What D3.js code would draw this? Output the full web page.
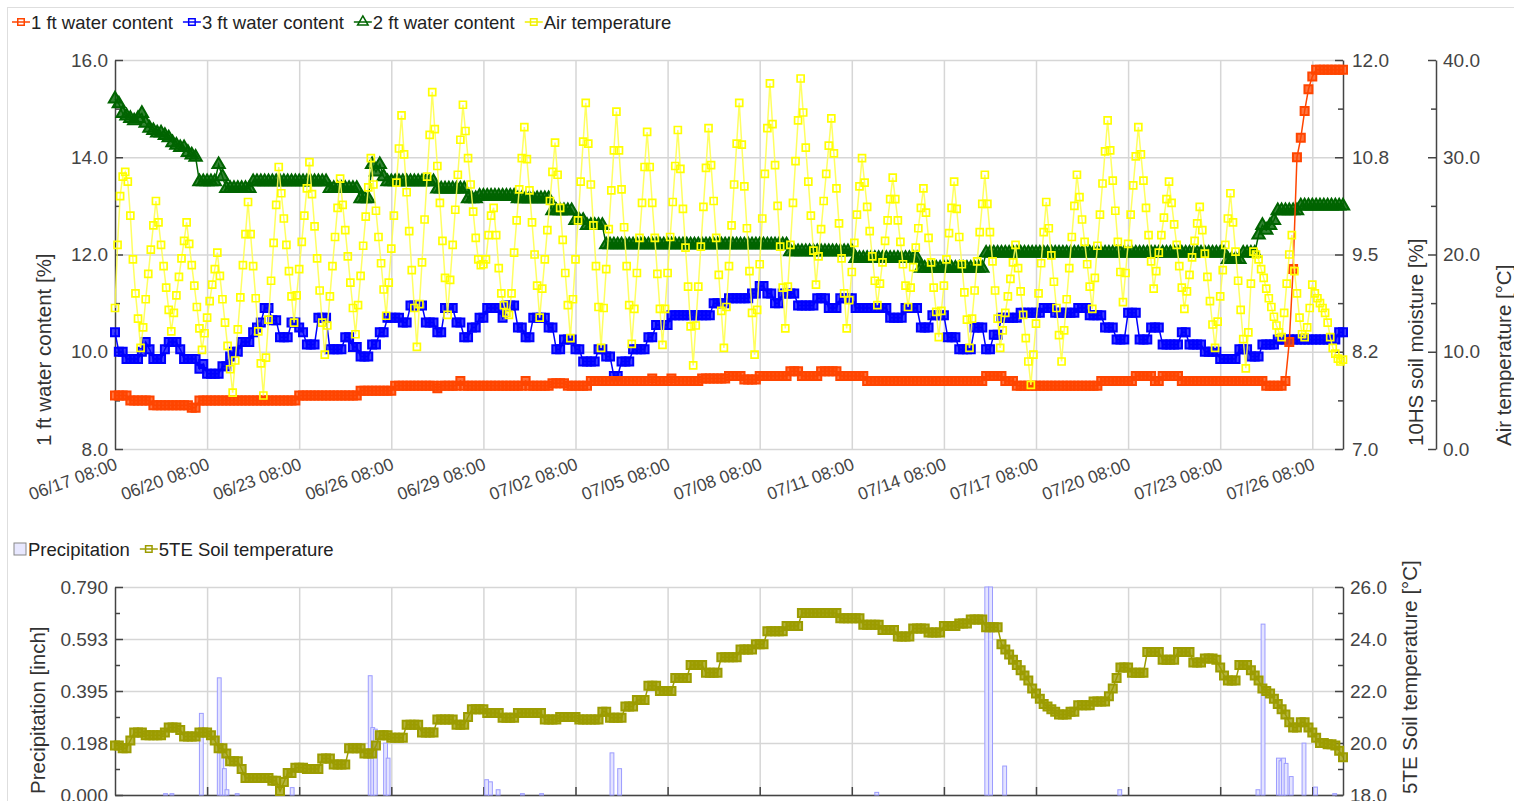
<!DOCTYPE html>
<html><head><meta charset="utf-8">
<script src="https://cdn.jsdelivr.net/npm/d3@7"></script>
<style>
body{margin:0;background:#fff}
svg{display:block}
text{font-family:"Liberation Sans",Arial,Helvetica,sans-serif}
</style>
</head><body>
<script>
// ---------------- DATA ----------------
const startTime = "2020-06-17T08:00";
const endTime   = "2020-07-27T08:00";
const xTickLabels = ["06/17 08:00","06/20 08:00","06/23 08:00","06/26 08:00","06/29 08:00","07/02 08:00","07/05 08:00","07/08 08:00","07/11 08:00","07/14 08:00","07/17 08:00","07/20 08:00","07/23 08:00","07/26 08:00"];
const xTickTimes  = ["2020-06-17T08:00","2020-06-20T08:00","2020-06-23T08:00","2020-06-26T08:00","2020-06-29T08:00","2020-07-02T08:00","2020-07-05T08:00","2020-07-08T08:00","2020-07-11T08:00","2020-07-14T08:00","2020-07-17T08:00","2020-07-20T08:00","2020-07-23T08:00","2020-07-26T08:00"];

const waterTicks = [8,10,12,14,16];           const waterTickLabels = ["8.0","10.0","12.0","14.0","16.0"];
const moistTicks = [7,8.25,9.5,10.75,12];      const moistTickLabels = ["7.0","8.2","9.5","10.8","12.0"];
const airTicks   = [0,10,20,30,40];            const airTickLabels   = ["0.0","10.0","20.0","30.0","40.0"];
const precipTicks = [0,0.1975,0.395,0.5925,0.79]; const precipTickLabels = ["0.000","0.198","0.395","0.593","0.790"];
const soilTicks  = [18,20,22,24,26];           const soilTickLabels  = ["18.0","20.0","22.0","24.0","26.0"];

// step of the series (hours)
const stepHoursWater = 3;
const stepHoursAir = 2;

// 1 ft water content [%] (every 3 h, one row per day)
const water1ft = [
9.1,9.1,9.1,9.1,9.0,9.0,9.0,9.0,
9.0,9.0,8.9,8.9,8.9,8.9,8.9,8.9,
8.9,8.9,8.9,8.9,8.85,8.85,9.0,9.0,
9.0,9.0,9.0,9.0,9.0,9.0,9.0,9.0,
9.0,9.0,9.0,9.0,9.0,9.0,9.0,9.0,
9.0,9.0,9.0,9.0,9.0,9.0,9.0,9.0,
9.1,9.1,9.1,9.1,9.1,9.1,9.1,9.1,
9.1,9.1,9.1,9.1,9.1,9.1,9.1,9.1,
9.2,9.2,9.2,9.2,9.2,9.2,9.2,9.2,
9.2,9.3,9.3,9.3,9.3,9.3,9.3,9.3,
9.3,9.3,9.3,9.3,9.25,9.3,9.3,9.3,
9.3,9.3,9.4,9.3,9.3,9.3,9.3,9.3,
9.3,9.3,9.3,9.3,9.3,9.3,9.3,9.3,
9.3,9.3,9.3,9.4,9.3,9.3,9.3,9.3,
9.3,9.3,9.35,9.35,9.35,9.35,9.3,9.3,
9.3,9.3,9.3,9.3,9.4,9.4,9.4,9.4,
9.4,9.4,9.4,9.4,9.4,9.4,9.4,9.4,
9.4,9.4,9.4,9.4,9.45,9.4,9.4,9.4,
9.4,9.45,9.4,9.4,9.4,9.4,9.4,9.4,
9.4,9.45,9.45,9.45,9.45,9.45,9.45,9.45,
9.5,9.5,9.5,9.5,9.43,9.43,9.43,9.43,
9.5,9.5,9.5,9.5,9.5,9.5,9.5,9.5,
9.6,9.6,9.6,9.5,9.5,9.5,9.5,9.5,
9.6,9.6,9.6,9.6,9.6,9.5,9.5,9.5,
9.5,9.5,9.5,9.5,9.4,9.4,9.4,9.4,
9.4,9.4,9.4,9.4,9.4,9.4,9.4,9.4,
9.4,9.4,9.4,9.4,9.4,9.4,9.4,9.4,
9.4,9.4,9.4,9.4,9.4,9.4,9.4,9.4,
9.4,9.4,9.4,9.5,9.5,9.5,9.5,9.5,
9.4,9.4,9.4,9.3,9.3,9.3,9.3,9.3,
9.3,9.3,9.3,9.3,9.3,9.3,9.3,9.3,
9.3,9.3,9.3,9.3,9.3,9.3,9.3,9.3,
9.3,9.4,9.4,9.4,9.4,9.4,9.4,9.4,
9.4,9.4,9.5,9.5,9.5,9.5,9.5,9.4,
9.4,9.5,9.5,9.5,9.5,9.5,9.4,9.4,
9.4,9.4,9.4,9.4,9.4,9.4,9.4,9.4,
9.4,9.4,9.4,9.4,9.4,9.4,9.4,9.4,
9.4,9.4,9.4,9.4,9.3,9.3,9.3,9.3,
9.3,9.4,10.2,11.7,14.0,14.4,14.95,15.4,
15.66,15.8,15.8,15.8,15.8,15.8,15.8,15.8,
15.8];

// 3 ft water content [%]
const water3ft = [
10.4,10.0,10.0,9.85,9.85,9.85,9.85,10.0,
10.2,10.05,9.85,9.85,9.85,10.05,10.2,10.2,
10.2,10.05,9.85,9.85,9.85,9.85,9.65,9.75,
9.55,9.55,9.55,9.55,9.7,9.7,9.9,10.0,
10.0,10.2,10.2,10.2,10.4,10.5,10.6,10.9,
10.9,10.65,10.65,10.3,10.3,10.3,10.6,10.6,
10.5,10.4,10.15,10.15,10.15,10.7,10.7,10.7,
10.05,10.05,10.05,10.05,10.3,10.3,10.1,10.1,
9.9,9.9,9.9,10.15,10.15,10.4,10.4,10.7,
10.7,10.7,10.7,10.6,10.6,10.95,10.95,10.95,
10.95,10.6,10.6,10.6,10.4,10.4,10.9,10.9,
10.9,10.6,10.6,10.3,10.3,10.5,10.5,10.7,
10.7,10.9,10.9,10.9,10.9,10.7,10.95,10.95,
10.95,10.5,10.5,10.3,10.3,10.7,10.7,10.7,
10.7,10.5,10.5,10.05,10.05,10.25,10.25,10.25,
10.05,10.05,9.8,9.8,9.8,9.8,10.05,10.05,
9.9,9.9,9.5,9.5,9.8,9.8,9.8,10.05,
10.05,10.05,10.05,10.3,10.3,10.55,10.55,10.55,
10.55,10.75,10.75,10.75,10.75,10.75,10.75,10.75,
10.75,10.75,10.75,10.75,11.0,11.0,11.0,11.0,
11.1,11.1,11.1,11.1,11.1,11.1,11.2,11.2,
11.35,11.35,11.2,11.2,11.0,11.0,11.2,11.2,
11.2,11.2,10.95,10.95,10.95,10.95,10.95,11.1,
11.1,11.1,10.9,10.9,10.9,11.1,11.1,11.1,
11.1,10.9,10.9,10.9,10.9,10.9,10.9,10.9,
10.9,10.9,10.7,10.7,10.7,10.7,10.9,10.9,
10.9,10.9,10.5,10.5,10.5,10.75,10.75,10.75,
10.75,10.3,10.3,10.3,10.05,10.05,10.05,10.05,
10.5,10.5,10.5,10.05,10.05,10.35,10.35,10.7,
10.7,10.7,10.7,10.7,10.8,10.8,10.8,10.8,
10.8,10.8,10.9,10.9,10.9,10.8,10.8,10.8,
10.8,10.8,10.8,10.9,10.9,10.9,10.75,10.75,
10.75,10.75,10.5,10.5,10.5,10.25,10.25,10.25,
10.8,10.8,10.8,10.25,10.25,10.25,10.5,10.5,
10.5,10.15,10.15,10.15,10.15,10.15,10.4,10.4,
10.15,10.15,10.15,10.15,10.0,10.0,10.0,10.0,
9.85,9.85,9.85,9.85,9.85,10.05,10.05,10.05,
9.9,9.9,9.9,10.15,10.15,10.15,10.15,10.25,
10.25,10.25,10.25,10.25,10.25,10.25,10.25,10.25,
10.25,10.25,10.25,10.25,10.25,10.25,10.25,10.4,
10.4];

// 2 ft water content [%]
const water2ft = [
15.2,15.1,14.9,14.85,14.8,14.75,14.8,14.9,
14.7,14.6,14.55,14.5,14.5,14.45,14.4,14.3,
14.25,14.2,14.2,14.1,14.05,14.0,13.5,13.5,
13.5,13.5,13.5,13.85,13.6,13.36,13.36,13.36,
13.36,13.36,13.36,13.36,13.5,13.5,13.5,13.5,
13.5,13.5,13.5,13.5,13.5,13.5,13.5,13.5,
13.5,13.5,13.5,13.5,13.5,13.5,13.5,13.5,
13.36,13.36,13.36,13.36,13.36,13.36,13.36,13.36,
13.15,13.15,13.15,13.85,13.7,13.85,13.6,13.5,
13.5,13.5,13.5,13.5,13.5,13.5,13.5,13.5,
13.5,13.5,13.5,13.5,13.35,13.35,13.35,13.35,
13.35,13.35,13.35,13.35,13.15,13.15,13.15,13.2,
13.2,13.2,13.2,13.2,13.2,13.2,13.2,13.2,
13.2,13.15,13.15,13.15,13.15,13.15,13.15,13.15,
13.15,13.15,12.9,12.9,12.9,12.9,12.9,12.9,
12.7,12.7,12.7,12.6,12.6,12.6,12.6,12.6,
12.2,12.2,12.2,12.2,12.2,12.2,12.2,12.2,
12.2,12.2,12.2,12.2,12.2,12.2,12.2,12.2,
12.2,12.2,12.2,12.2,12.2,12.2,12.2,12.2,
12.2,12.2,12.2,12.2,12.2,12.2,12.2,12.2,
12.2,12.2,12.2,12.2,12.2,12.2,12.2,12.2,
12.2,12.2,12.2,12.2,12.2,12.2,12.2,12.2,
12.06,12.06,12.06,12.06,12.06,12.06,12.06,12.06,
12.06,12.06,12.06,12.06,12.06,12.06,12.06,12.06,
12.06,11.92,11.92,11.92,11.92,11.92,11.92,11.92,
11.92,11.92,11.92,11.92,11.92,11.92,11.92,11.92,
11.92,11.92,11.72,11.72,11.72,11.72,11.72,11.72,
11.72,11.72,11.72,11.72,11.72,11.72,11.72,11.72,
11.72,11.72,11.72,12.03,12.03,12.03,12.03,12.03,
12.03,12.03,12.03,12.03,12.03,12.03,12.03,12.03,
12.03,12.03,12.03,12.03,12.03,12.03,12.03,12.03,
12.03,12.03,12.03,12.03,12.03,12.03,12.03,12.03,
12.03,12.03,12.03,12.03,12.03,12.03,12.03,12.03,
12.03,12.03,12.03,12.03,12.03,12.03,12.03,12.03,
12.03,12.03,12.03,12.03,12.03,12.03,12.03,12.03,
12.03,12.03,12.03,12.03,12.03,12.03,12.03,12.03,
12.03,12.03,11.9,11.9,11.9,11.9,12.03,12.03,
12.03,12.03,12.4,12.6,12.5,12.6,12.7,12.9,
12.9,12.9,12.9,12.9,12.9,13.0,13.0,13.0,
13.0,13.0,13.0,13.0,13.0,13.0,13.0,13.0,
13.0];

// Air temperature [°C] (every 2 h, one row per day: 08..06)
const airTemp = [
14.5,21.0,26.0,28.0,28.5,27.5,24.0,19.5,16.0,13.4,10.4,12.5,
15.4,18.0,20.5,23.0,25.5,23.3,21.0,18.8,16.6,14.3,12.1,14.0,
15.8,17.7,19.6,21.4,23.3,21.1,18.9,16.8,14.6,12.4,10.2,11.9,
13.5,15.2,16.9,18.5,20.2,17.8,15.4,13.0,10.6,8.2,5.8,9.1,
12.3,15.6,18.9,22.1,25.4,22.1,18.8,15.5,12.1,8.8,5.5,9.4,
13.3,17.3,21.2,25.1,29.0,26.3,23.7,21.0,18.3,15.7,13.0,15.8,
18.5,21.3,24.0,26.8,29.5,26.2,22.9,19.6,16.3,13.0,9.7,12.7,
15.7,18.8,21.8,24.8,27.8,25.1,22.5,19.8,17.1,14.5,11.8,14.8,
17.8,20.9,23.9,26.9,29.9,27.2,24.5,21.8,19.1,16.4,13.7,17.1,
20.6,24.0,27.4,30.9,34.3,30.3,26.4,22.4,18.4,14.5,10.5,14.9,
19.2,23.6,28.0,32.3,36.7,32.9,29.1,25.3,21.4,17.6,13.8,17.4,
21.0,24.6,28.2,31.8,35.4,32.7,29.9,27.2,24.4,21.7,19.5,18.9,
19.0,19.5,22.0,24.0,24.8,22.0,18.6,16.0,14.8,14.0,13.8,16.0,
20.2,23.5,26.7,29.9,33.1,29.8,26.6,23.3,20.0,16.8,13.5,16.5,
19.5,22.5,25.5,28.5,31.5,28.2,24.8,21.5,18.1,14.8,11.4,15.4,
19.5,23.5,27.5,31.6,35.6,31.4,27.2,23.0,18.8,14.6,10.4,14.5,
18.5,22.6,26.6,30.7,34.7,30.7,26.7,22.8,18.8,14.8,10.8,14.4,
18.1,21.7,25.3,29.0,32.6,29.0,25.3,21.7,18.0,14.4,10.7,14.4,
18.1,21.8,25.4,29.1,32.8,28.8,24.7,20.7,16.7,12.6,8.6,12.7,
16.7,20.8,24.9,28.9,33.0,29.2,25.5,21.7,17.9,14.2,10.4,14.6,
18.8,23.0,27.2,31.4,35.6,31.3,27.0,22.7,18.3,14.0,9.7,14.3,
19.0,23.7,28.3,33.0,37.6,33.4,29.2,25.0,20.8,16.6,12.4,16.7,
21.0,25.3,29.6,33.8,38.1,34.6,31.0,27.5,24.0,20.4,16.9,19.8,
22.6,25.5,28.3,31.2,34.0,30.4,26.8,23.2,19.6,16.0,12.4,15.3,
18.2,21.2,24.1,27.0,29.9,27.4,24.9,22.4,19.8,17.3,14.8,17.0,
19.2,21.4,23.5,25.7,27.9,25.7,23.5,21.3,19.0,16.8,14.6,16.6,
18.7,20.7,22.7,24.8,26.8,24.3,21.7,19.2,16.6,14.1,11.5,14.2,
16.8,19.5,22.2,24.8,27.5,24.7,21.8,19.0,16.1,13.3,10.4,13.4,
16.3,19.3,22.3,25.2,28.2,25.2,22.3,19.3,16.3,13.4,10.4,12.2,
14.0,15.7,17.5,19.2,21.0,18.6,16.2,13.8,11.4,9.0,6.6,9.7,
12.9,16.0,19.1,22.3,25.4,22.7,19.9,17.2,14.5,11.7,9.0,12.2,
15.4,18.6,21.8,25.0,28.2,25.9,23.6,21.3,19.0,16.7,14.4,17.6,
20.9,24.1,27.3,30.6,33.8,30.7,27.6,24.5,21.3,18.2,15.1,18.1,
21.1,24.1,27.1,30.1,33.1,30.3,27.6,24.8,22.0,19.3,16.5,18.3,
20.2,22.0,23.8,25.7,27.5,25.3,23.1,21.0,18.8,16.6,14.4,16.2,
17.9,19.7,21.4,23.2,24.9,22.5,20.1,17.7,15.2,12.8,10.4,13.1,
15.7,18.4,21.0,23.7,26.3,23.3,20.3,17.3,14.3,11.3,8.3,12.0,
17.0,20.3,20.0,19.5,18.5,17.6,16.5,15.5,14.6,13.6,12.7,12.0,
11.5,14.0,17.0,20.0,22.0,18.3,16.0,13.5,11.8,11.5,12.5,14.5,
16.9,16.0,15.5,15.0,14.5,14.0,13.0,11.5,10.4,9.8,9.3,9.0,
9.2];

// 5TE soil temperature [°C] (every 3 h)
const soilTemp = [
19.9,19.9,19.8,19.8,20.1,20.4,20.4,20.4,
20.3,20.3,20.3,20.3,20.3,20.4,20.6,20.6,
20.6,20.5,20.25,20.25,20.25,20.25,20.4,20.4,
20.4,20.3,20.1,19.8,19.8,19.6,19.3,19.3,
19.3,19.0,18.65,18.65,18.65,18.65,18.65,18.65,
18.65,18.55,18.55,18.15,18.5,18.85,18.85,19.05,
19.05,19.05,19.0,19.0,19.0,19.0,19.4,19.4,
19.4,19.17,19.17,19.17,19.17,19.8,19.8,19.8,
19.8,19.6,19.6,19.6,19.9,20.3,20.3,20.3,
20.2,20.2,20.2,20.2,20.7,20.7,20.7,20.7,
20.4,20.4,20.4,20.4,20.9,20.9,20.9,20.9,
20.9,20.7,20.7,20.7,21.0,21.3,21.3,21.3,
21.3,21.15,21.15,21.15,21.15,20.97,20.97,20.97,
20.97,21.15,21.15,21.15,21.15,21.15,21.15,21.15,
20.9,20.9,20.9,20.9,21.0,21.0,21.0,21.0,
21.0,20.9,20.9,20.9,20.9,20.9,20.9,21.2,
21.2,20.97,20.97,20.97,20.97,21.4,21.4,21.4,
21.65,21.65,21.65,22.2,22.2,22.2,22.0,22.0,
22.0,22.0,22.5,22.5,22.5,22.5,23.0,23.0,
23.0,23.0,22.7,22.7,22.7,22.7,23.3,23.3,
23.3,23.3,23.3,23.6,23.6,23.6,23.6,23.8,
23.8,23.8,24.3,24.3,24.3,24.3,24.3,24.5,
24.5,24.5,24.5,25.0,25.0,25.0,25.0,25.0,
25.0,25.0,25.0,25.0,25.0,24.8,24.8,24.8,
24.8,24.8,24.8,24.55,24.55,24.55,24.55,24.55,
24.35,24.35,24.35,24.35,24.1,24.1,24.1,24.1,
24.4,24.4,24.4,24.4,24.25,24.25,24.25,24.25,
24.5,24.5,24.5,24.5,24.6,24.6,24.6,24.75,
24.75,24.75,24.75,24.45,24.45,24.45,24.45,23.8,
23.6,23.4,23.2,23.0,22.8,22.6,22.4,22.1,
21.9,21.7,21.5,21.4,21.3,21.2,21.1,21.1,
21.1,21.2,21.2,21.45,21.45,21.45,21.45,21.6,
21.6,21.6,21.6,21.8,22.1,22.5,22.9,22.9,
22.9,22.7,22.7,22.7,22.7,23.5,23.5,23.5,
23.5,23.2,23.2,23.2,23.2,23.5,23.5,23.5,
23.5,23.1,23.1,23.1,23.25,23.25,23.25,23.2,
22.9,22.6,22.4,22.4,22.4,23.0,23.0,23.0,
22.8,22.6,22.4,22.1,22.0,21.9,21.7,21.5,
21.3,21.1,20.8,20.6,20.6,20.8,20.8,20.6,
20.4,20.2,20.0,20.0,19.95,19.95,19.9,19.7,
19.45];

// Precipitation events: hours after start, amount [inch]
const precipHours  = [38,43,66,80,82,84,86,94,137,198,200,202,210,212,289,292,298,317,332,387,393,594,680,683,694,784,892,896,908,910,912,914,918,928,937,952];
const precipValues = [0.005,0.005,0.31,0.445,0.165,0.10,0.02,0.005,0.028,0.453,0.256,0.25,0.197,0.14,0.058,0.05,0.02,0.005,0.005,0.16,0.10,0.01,0.79,0.79,0.11,0.02,0.02,0.649,0.14,0.13,0.14,0.12,0.07,0.197,0.03,0.005];

// ---------------- CHART ----------------
const W = 1514, H = 801;
const FONT_TICK = 19, FONT_X = 17.5, FONT_LEG = 18.5, FONT_TITLE = 20.5;
const AXIS = "#444", GRID = "#d6d6d6";
const parse = d3.utcParse("%Y-%m-%dT%H:%M");
const t0 = parse(startTime), t1 = parse(endTime);
const HOUR = 3600e3;
const L = 115, R = 1343, R2 = 1436;
const topY0 = 60, topY1 = 449, botY0 = 587, botY1 = 795;

const x = d3.scaleUtc().domain([t0, t1]).range([L, R]);
const yW = d3.scaleLinear().domain([8, 16]).range([topY1, topY0]);
const yM = d3.scaleLinear().domain([7, 12]).range([topY1, topY0]);
const yA = d3.scaleLinear().domain([0, 40]).range([topY1, topY0]);
const yP = d3.scaleLinear().domain([0, 0.79]).range([botY1, botY0]);
const yS = d3.scaleLinear().domain([18, 26]).range([botY1, botY0]);

const svg = d3.select("body").append("svg").attr("width", W).attr("height", H);
svg.append("rect").attr("x", 7.5).attr("y", 7.5).attr("width", 1540).attr("height", 830)
  .attr("fill", "#fff").attr("stroke", "#dedede").attr("stroke-width", 1);

const xTicks = xTickTimes.map(parse);
const mids = a => a.slice(1).map((v, i) => (v + a[i]) / 2);

function grid(y0, y1, yScale, yVals) {
  const g = svg.append("g");
  g.append("g").attr("transform", `translate(0,${y1})`)
    .call(d3.axisBottom(x).tickValues(xTicks.slice(1)).tickSize(-(y1 - y0)).tickFormat(""))
    .call(s => { s.select(".domain").remove(); s.selectAll("line").attr("stroke", GRID).attr("stroke-width", 1.5); });
  g.append("g").attr("transform", `translate(${L},0)`)
    .call(d3.axisLeft(yScale).tickValues(yVals).tickSize(-(R - L)).tickFormat(""))
    .call(s => { s.select(".domain").remove(); s.selectAll("line").attr("stroke", GRID).attr("stroke-width", 1.5); });
}
grid(topY0, topY1, yW, waterTicks);
grid(botY0, botY1, yP, precipTicks);

function yAxis(maker, scale, xpos, vals, labels, pad) {
  const g = svg.append("g").attr("transform", `translate(${xpos},0)`);
  g.call(maker(scale).tickValues(vals).tickFormat((d, i) => labels[i]).tickSize(-8).tickSizeOuter(0).tickPadding(pad));
  g.append("g").call(maker(scale).tickValues(mids(vals)).tickFormat("").tickSize(-5).tickSizeOuter(0))
    .call(s => s.select(".domain").remove());
  g.selectAll(".domain").attr("stroke", AXIS).attr("stroke-width", 1.5);
  g.selectAll("line").attr("stroke", AXIS).attr("stroke-width", 1.5);
  g.selectAll("text").attr("font-size", FONT_TICK).attr("fill", AXIS)
    .attr("font-family", '"Liberation Sans",Arial,sans-serif');
  return g;
}
yAxis(d3.axisLeft, yW, L, waterTicks, waterTickLabels, 7);
yAxis(d3.axisRight, yM, R, moistTicks, moistTickLabels, 9);
yAxis(d3.axisRight, yA, R2, airTicks, airTickLabels, 7);
yAxis(d3.axisLeft, yP, L, precipTicks, precipTickLabels, 7);
yAxis(d3.axisRight, yS, R, soilTicks, soilTickLabels, 7);

// x labels (top chart)
const xa = svg.append("g").attr("transform", `translate(0,${topY1})`)
  .call(d3.axisBottom(x).tickValues(xTicks).tickSize(0).tickFormat((d, i) => xTickLabels[i]));
xa.select(".domain").remove();
xa.selectAll("text").attr("x", 0).attr("y", 0).attr("dy", 0)
  .attr("text-anchor", "end").attr("font-size", FONT_X).attr("fill", AXIS)
  .attr("font-family", '"Liberation Sans",Arial,sans-serif')
  .attr("transform", "translate(3,20) rotate(-20)");

// bottom x axis ticks
const xb = svg.append("g").attr("transform", `translate(0,${botY1})`)
  .call(d3.axisBottom(x).tickValues(xTicks.slice(1)).tickSize(-8).tickSizeOuter(0).tickFormat(""));
xb.select(".domain").attr("stroke", AXIS).attr("stroke-width", 1.5);
xb.selectAll("line").attr("stroke", AXIS).attr("stroke-width", 1.5);

// axis titles
function vTitle(txt, xp, yp) {
  svg.append("text").attr("transform", `translate(${xp},${yp}) rotate(-90)`)
    .attr("font-size", FONT_TITLE).attr("fill", "#333").text(txt);
}
vTitle("1 ft water content [%]", 51, 446);
vTitle("10HS soil moisture [%]", 1423, 446);
vTitle("Air temperature [°C]", 1511, 446);
vTitle("Precipitation [inch]", 45, 794);
vTitle("5TE Soil temperature [°C]", 1417, 794);

// ---------- series ----------
const sqBig = d3.symbol(d3.symbolSquare, 64);
const sq = d3.symbol(d3.symbolSquare, 49);
const tri = d3.symbol(d3.symbolTriangle, 66);
function series(vals, stepH, yScale, color, sym, sw, fillOp, lineColor, lineOpacity) {
  const pts = vals.map((v, i) => [x(new Date(+t0 + i * stepH * HOUR)), yScale(v)]);
  const g = svg.append("g");
  g.append("path").attr("d", d3.line()(pts)).attr("fill", "none")
    .attr("stroke", lineColor || color).attr("stroke-width", 1.5).attr("stroke-opacity", lineOpacity || 1);
  g.selectAll("path.m").data(pts).join("path").attr("class", "m")
    .attr("transform", d => `translate(${d[0]},${d[1]})`).attr("d", sym)
    .attr("fill", fillOp ? color : "none").attr("fill-opacity", fillOp || 0)
    .attr("stroke", color).attr("stroke-width", sw);
}

// precipitation bars
const pw = x(new Date(+t0 + 3 * HOUR)) - x(t0);
svg.append("g").selectAll("rect").data(precipHours).join("rect")
  .attr("x", h => x(new Date(+t0 + h * HOUR)))
  .attr("y", (h, i) => yP(precipValues[i]))
  .attr("width", pw)
  .attr("height", (h, i) => botY1 - yP(precipValues[i]))
  .attr("fill", "#e4e4ff").attr("stroke", "#9c9cff").attr("stroke-width", 1);

series(soilTemp, stepHoursWater, yS, "#9c9c00", sqBig, 2, 0.75);
series(water3ft, stepHoursWater, yW, "#0000ff", sqBig, 2, 0.75);
series(water2ft, stepHoursWater, yW, "#006400", tri, 2, 0.8);
series(water1ft, stepHoursWater, yW, "#ff4500", sqBig, 2, 0.75);
series(airTemp, stepHoursAir, yA, "#ffff00", sq, 1.7, 0, "#ffff50", 0.9);

// ---------- legends ----------
function legend(items, y0) {
  let cx = 12;
  items.forEach(it => {
    if (it.box) {
      svg.append("rect").attr("x", cx + 2).attr("y", y0 - 6).attr("width", 12).attr("height", 12)
        .attr("fill", "#e8e8ff").attr("stroke", "#888");
      cx += 16;
    } else {
      svg.append("line").attr("x1", cx).attr("x2", cx + 18).attr("y1", y0).attr("y2", y0)
        .attr("stroke", it.color).attr("stroke-width", 1.5);
      svg.append("path").attr("transform", `translate(${cx + 9},${y0})`).attr("d", it.sym)
        .attr("fill", "none").attr("stroke", it.color).attr("stroke-width", 1.5);
      cx += 19;
    }
    const t = svg.append("text").attr("x", cx).attr("y", y0).attr("dy", "0.36em")
      .attr("font-size", FONT_LEG).attr("fill", "#222").text(it.label);
    cx += t.node().getComputedTextLength() + 10;
  });
}
const legSq = d3.symbol(d3.symbolSquare, 42);
const legTri = d3.symbol(d3.symbolTriangle, 48);
legend([
  {label: "1 ft water content", color: "#ff4500", sym: legSq},
  {label: "3 ft water content", color: "#0000ff", sym: legSq},
  {label: "2 ft water content", color: "#006400", sym: legTri},
  {label: "Air temperature", color: "#f0f000", sym: legSq}
], 22);
legend([
  {label: "Precipitation", box: true},
  {label: "5TE Soil temperature", color: "#9c9c00", sym: legSq}
], 549);
</script>
</body></html>
